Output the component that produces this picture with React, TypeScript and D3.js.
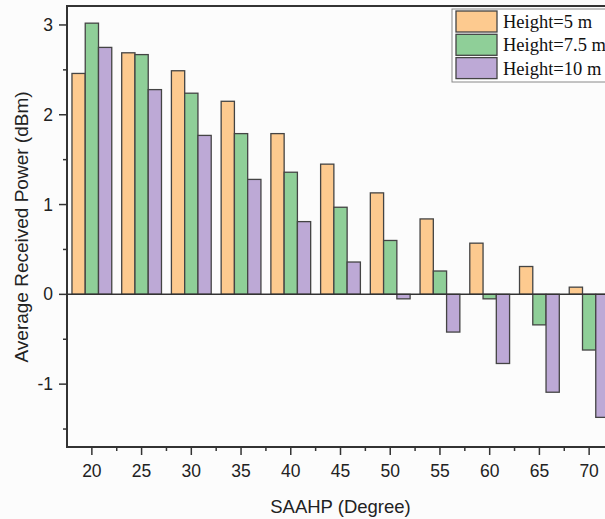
import React from 'react';
import * as d3 from 'd3';

const angles = [20, 25, 30, 35, 40, 45, 50, 55, 60, 65, 70];
const h5 = [2.46, 2.69, 2.49, 2.15, 1.79, 1.45, 1.13, 0.84, 0.57, 0.31, 0.08];
const h75 = [3.02, 2.67, 2.24, 1.79, 1.36, 0.97, 0.6, 0.26, -0.05, -0.34, -0.62];
const h10 = [2.75, 2.28, 1.77, 1.28, 0.81, 0.36, -0.05, -0.42, -0.77, -1.09, -1.37];
const seriesNames = ['Height=5 m', 'Height=7.5 m', 'Height=10 m'];
const colors = ['#fdca8f', '#8fcf98', '#bda9d6'];
const yTicks = [-1, 0, 1, 2, 3];
const yMinor = [-1.5, -0.5, 0.5, 1.5, 2.5];
const xMinor = [22.5, 27.5, 32.5, 37.5, 42.5, 47.5, 52.5, 57.5, 62.5, 67.5, 72.5];

const W = 605;
const H = 519;
const left = 67;
const right = 614;
const top = 7;
const bottom = 447;
const sans = '"Liberation Sans", Arial, sans-serif';
const serif = '"Liberation Serif", "Times New Roman", serif';

export default function App() {
  const x = d3.scaleLinear().domain([17.5, 72.5]).range([left, right]);
  const y = d3.scaleLinear().domain([-1.7, 3.2]).range([bottom, top]);
  const series = [h5, h75, h10];
  const barW = 4 / 3;
  const axisColor = '#333';

  return (
    <svg
      width={W}
      height={H}
      style={{ position: 'absolute', left: 0, top: 0, background: '#fcfcfc' }}
    >
      {/* bars */}
      {series.map((vals, si) =>
        vals.map((v, i) => {
          const x0 = x(angles[i] - 2 + si * barW);
          const x1 = x(angles[i] - 2 + (si + 1) * barW);
          const yTop = y(Math.max(v, 0));
          const yBot = y(Math.min(v, 0));
          return (
            <rect
              key={`b-${si}-${i}`}
              x={x0}
              y={yTop}
              width={x1 - x0}
              height={Math.max(yBot - yTop, 0.5)}
              fill={colors[si]}
              stroke="#444"
              strokeWidth={1.3}
            />
          );
        })
      )}

      {/* zero line */}
      <line x1={left} x2={W} y1={y(0)} y2={y(0)} stroke={axisColor} strokeWidth={1.5} />

      {/* frame */}
      <line x1={left} x2={W} y1={top - 1} y2={top - 1} stroke={axisColor} strokeWidth={2} />
      <line x1={left} x2={left} y1={top - 2} y2={bottom + 1} stroke={axisColor} strokeWidth={2} />
      <line x1={left - 1} x2={W} y1={bottom} y2={bottom} stroke={axisColor} strokeWidth={2} />

      {/* y ticks */}
      {yTicks.map(t => (
        <g key={`yt-${t}`}>
          <line x1={left - 8} x2={left} y1={y(t)} y2={y(t)} stroke={axisColor} strokeWidth={1.5} />
          <text
            x={left - 14}
            y={y(t) + 6}
            textAnchor="end"
            fontFamily={sans}
            fontSize={17.5}
            fill="#222"
          >
            {t}
          </text>
        </g>
      ))}
      {yMinor.map(t => (
        <line key={`ym-${t}`} x1={left - 4} x2={left} y1={y(t)} y2={y(t)} stroke={axisColor} strokeWidth={1.5} />
      ))}

      {/* x ticks */}
      {angles.map(a => (
        <g key={`xt-${a}`}>
          <line x1={x(a)} x2={x(a)} y1={bottom} y2={bottom + 8} stroke={axisColor} strokeWidth={1.5} />
          <text
            x={x(a)}
            y={bottom + 30}
            textAnchor="middle"
            fontFamily={sans}
            fontSize={17.5}
            fill="#222"
          >
            {a}
          </text>
        </g>
      ))}
      {xMinor.map(t => (
        <line key={`xm-${t}`} x1={x(t)} x2={x(t)} y1={bottom} y2={bottom + 4} stroke={axisColor} strokeWidth={1.5} />
      ))}

      {/* axis labels */}
      <text
        x={(left + right) / 2}
        y={513}
        textAnchor="middle"
        fontFamily={sans}
        fontSize={18.5}
        fill="#222"
      >
        SAAHP (Degree)
      </text>
      <text
        transform={`translate(28, ${(top + bottom) / 2}) rotate(-90)`}
        textAnchor="middle"
        fontFamily={sans}
        fontSize={19}
        fill="#222"
      >
        Average Received Power (dBm)
      </text>

      {/* legend */}
      <g>
        <rect x={452} y={9} width={170} height={73} fill="#fff" stroke="#888" strokeWidth={1} />
        {seriesNames.map((name, i) => (
          <g key={name} transform={`translate(456, ${11 + i * 23.3})`}>
            <rect width={41} height={21} fill={colors[i]} stroke="#444" strokeWidth={1.3} />
            <text x={47} y={17} fontFamily={serif} fontSize={18.5} fill="#111">
              {name}
            </text>
          </g>
        ))}
      </g>
    </svg>
  );
}
